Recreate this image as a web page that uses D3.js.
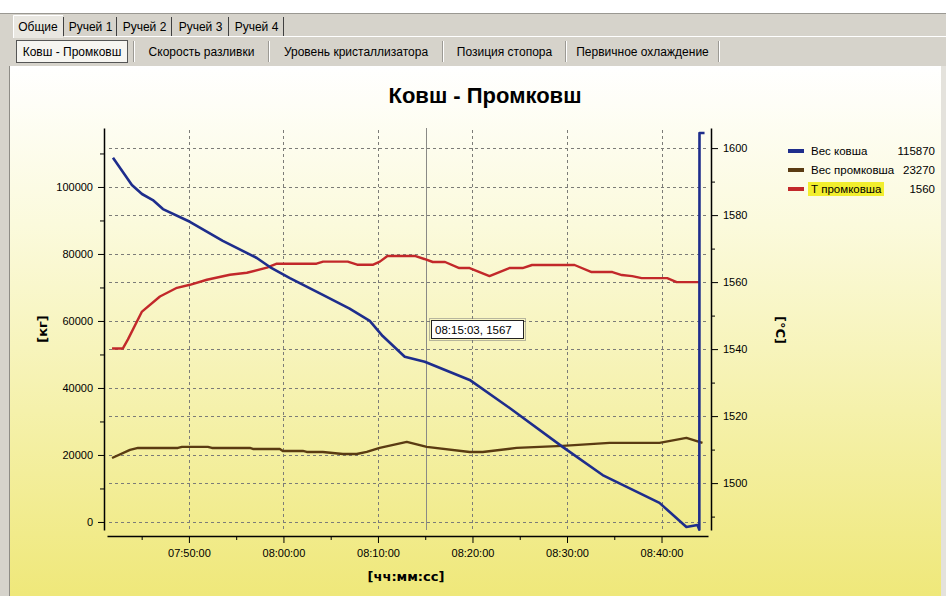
<!DOCTYPE html>
<html>
<head>
<meta charset="utf-8">
<script src="https://cdn.jsdelivr.net/npm/d3@7/dist/d3.min.js"></script>
<style>
  body { margin: 0; background: #fff; }
  svg { display: block; font-family: "Liberation Sans", Arial, sans-serif; }
</style>
</head>
<body>
<div id="chart"></div>
<script>
// tabs
var mainTabs = ["Общие", "Ручей 1", "Ручей 2", "Ручей 3", "Ручей 4"];
var subTabs = ["Ковш - Промковш", "Скорость разливки", "Уровень кристаллизатора", "Позиция стопора", "Первичное охлаждение"];

// series: [time, value]
var ladleWeight = [
  ["07:41:58", 108700], ["07:43:58", 100600], ["07:45:02", 97900], ["07:46:11", 96100],
  ["07:47:15", 93400], ["07:50:06", 89600], ["07:53:35", 83900], ["07:57:11", 78800],
  ["07:58:34", 76100], ["08:00:41", 72800], ["08:04:10", 67800], ["08:07:00", 63700],
  ["08:09:08", 60000], ["08:10:30", 55500], ["08:12:50", 49300], ["08:14:57", 47800],
  ["08:19:42", 42400], ["08:23:56", 34000], ["08:29:32", 22400], ["08:33:46", 14000],
  ["08:39:47", 5700], ["08:42:38", -1500], ["08:43:48", -900], ["08:44:00", -2300],
  ["08:44:01", 116100], ["08:44:33", 116100]
];
var tundishWeight = [
  ["07:41:52", 19100], ["07:43:46", 21500], ["07:44:37", 22100], ["07:48:50", 22100],
  ["07:49:16", 22400], ["07:52:00", 22400], ["07:52:26", 22100], ["07:56:27", 22100],
  ["07:56:46", 21800], ["07:59:37", 21800], ["07:59:56", 21200], ["08:02:03", 21200],
  ["08:02:28", 20900], ["08:04:10", 20900], ["08:06:17", 20300], ["08:07:45", 20300],
  ["08:08:49", 20900], ["08:10:11", 22100], ["08:13:03", 23900], ["08:15:10", 22400],
  ["08:19:42", 20900], ["08:21:05", 20900], ["08:24:40", 22100], ["08:29:32", 22700],
  ["08:34:30", 23600], ["08:39:47", 23600], ["08:42:38", 25100], ["08:44:20", 23600]
];
var tundishTemp = [
  ["07:41:52", 1540.2], ["07:43:01", 1540.2], ["07:43:33", 1542.9], ["07:45:02", 1551.2],
  ["07:46:56", 1555.7], ["07:48:44", 1558.3], ["07:50:06", 1559.2], ["07:51:54", 1560.7],
  ["07:54:20", 1562.2], ["07:56:08", 1562.8], ["07:58:15", 1564.3], ["07:59:18", 1565.5],
  ["08:03:30", 1565.5], ["08:04:12", 1566.1], ["08:06:48", 1566.1], ["08:07:48", 1565.2],
  ["08:09:30", 1565.2], ["08:10:12", 1566.1], ["08:11:00", 1567.8], ["08:13:54", 1567.8],
  ["08:14:54", 1566.9], ["08:15:48", 1566.0], ["08:17:06", 1566.0], ["08:18:36", 1564.2],
  ["08:19:42", 1564.2], ["08:21:48", 1561.8], ["08:23:54", 1564.2], ["08:25:18", 1564.2],
  ["08:26:18", 1565.1], ["08:30:48", 1565.1], ["08:32:36", 1563.0], ["08:34:48", 1563.0],
  ["08:35:48", 1562.1], ["08:36:54", 1561.8], ["08:37:54", 1561.2], ["08:40:36", 1561.2],
  ["08:41:36", 1560.0], ["08:44:00", 1560.0]
];

var legendNames = ["Вес ковша", "Вес промковша", "Т промковша"];
var legendValues = ["115870", "23270", "1560"];

var leftTicks = [0, 20000, 40000, 60000, 80000, 100000];
var leftMinor = [10000, 30000, 50000, 70000, 90000, 110000];
var rightTicks = [1500, 1520, 1540, 1560, 1580, 1600];
var rightMinor = [1490, 1510, 1530, 1550, 1570, 1590];

var cursorTime = "08:15:03";
var cursorLabel = "08:15:03, 1567";

var width = 946, height = 596;
var parse = d3.timeParse("%H:%M:%S");

var svg = d3.select("#chart").append("svg")
  .attr("width", width)
  .attr("height", height);

var defs = svg.append("defs");
var grad = defs.append("linearGradient")
  .attr("id", "bg").attr("x1", 0).attr("y1", 0).attr("x2", 0).attr("y2", 1);
grad.append("stop").attr("offset", "0%").attr("stop-color", "#ffffff");
grad.append("stop").attr("offset", "30%").attr("stop-color", "#fbfadc");
grad.append("stop").attr("offset", "100%").attr("stop-color", "#efe87a");

// window / tab frame
svg.append("rect").attr("x", 0).attr("y", 13).attr("width", width).attr("height", height - 13).attr("fill", "#d6d3cb");
svg.append("line").attr("x1", 0).attr("x2", width).attr("y1", 13.5).attr("y2", 13.5).attr("stroke", "#9a9892");
svg.append("line").attr("x1", 64).attr("x2", width).attr("y1", 36.5).attr("y2", 36.5).attr("stroke", "#ffffff");

var tabEdges = [13, 65, 118, 173, 230, 285];
mainTabs.forEach(function (t, i) {
  var x0 = tabEdges[i], x1 = tabEdges[i + 1];
  if (i == 0) {
    svg.append("rect").attr("x", x0).attr("y", 15).attr("width", x1 - x0 - 2).attr("height", 23).attr("fill", "#e9e7e1");
    svg.append("path").attr("d", "M" + (x0 + 0.5) + ",38V15.5H" + (x1 - 2)).attr("fill", "none").attr("stroke", "#fff");
  }
  svg.append("line").attr("x1", x1 - 1.5).attr("x2", x1 - 1.5).attr("y1", 17).attr("y2", 36).attr("stroke", "#404040");
  svg.append("text").attr("x", (x0 + x1) / 2 - 1).attr("y", 31).attr("text-anchor", "middle")
    .style("font-size", "12px").attr("fill", "#000").text(t);
});

var subEdges = [16, 133, 268, 442, 565, 718];
subTabs.forEach(function (t, i) {
  var x0 = subEdges[i], x1 = subEdges[i + 1];
  if (i == 0) {
    svg.append("rect").attr("x", 16.5).attr("y", 40.5).attr("width", 111).attr("height", 22)
      .attr("fill", "#f6f5f1").attr("stroke", "#555");
  }
  svg.append("line").attr("x1", x1 + 0.5).attr("x2", x1 + 0.5).attr("y1", 41).attr("y2", 62).attr("stroke", "#9c9a94");
  svg.append("line").attr("x1", x1 + 1.5).attr("x2", x1 + 1.5).attr("y1", 41).attr("y2", 62).attr("stroke", "#fff");
  svg.append("text").attr("x", i == 0 ? 72 : (x0 + x1) / 2 + 1).attr("y", 56).attr("text-anchor", "middle")
    .style("font-size", "12px").attr("fill", "#000").text(t);
});

// chart pane
svg.append("rect").attr("x", 9).attr("y", 66).attr("width", 932).attr("height", 530).attr("fill", "url(#bg)");
svg.append("line").attr("x1", 9.5).attr("x2", 9.5).attr("y1", 66).attr("y2", height).attr("stroke", "#8e8c86");
svg.append("rect").attr("x", 941).attr("y", 66).attr("width", 5).attr("height", 530).attr("fill", "#e4e2dc");

// scales
var x = d3.scaleTime().domain([parse("07:41:20"), parse("08:44:55")]).range([107, 708]);
var yL = d3.scaleLinear().domain([-2400, 117600]).range([530, 128]);
var yR = d3.scaleLinear().domain([1486, 1606]).range([530, 128]);

// title
svg.append("text").attr("x", 485).attr("y", 103).attr("text-anchor", "middle")
  .style("font-size", "22px").style("font-weight", "bold").text("Ковш - Промковш");

// grid
var grid = svg.append("g").attr("stroke", "#7c7c78").attr("stroke-dasharray", "3,3").attr("stroke-width", 1);
var xMajor = x.ticks(d3.timeMinute.every(10));
grid.selectAll(".gx").data(xMajor).enter().append("line")
  .attr("x1", function (d) { return Math.round(x(d)) + 0.5; })
  .attr("x2", function (d) { return Math.round(x(d)) + 0.5; })
  .attr("y1", 130).attr("y2", 530);
grid.selectAll(".gl").data(leftTicks).enter().append("line")
  .attr("x1", 109).attr("x2", 707)
  .attr("y1", function (d) { return Math.round(yL(d)) + 0.5; })
  .attr("y2", function (d) { return Math.round(yL(d)) + 0.5; });
grid.selectAll(".gr").data(rightTicks).enter().append("line")
  .attr("x1", 109).attr("x2", 707)
  .attr("y1", function (d) { return Math.round(yR(d)) + 0.5; })
  .attr("y2", function (d) { return Math.round(yR(d)) + 0.5; });

// cursor
svg.append("line")
  .attr("x1", Math.round(x(parse(cursorTime))) + 0.5).attr("x2", Math.round(x(parse(cursorTime))) + 0.5)
  .attr("y1", 128).attr("y2", 530).attr("stroke", "#8a8a86").attr("stroke-width", 1);

// axes
function styleAxis(g) {
  g.selectAll("text").attr("fill", "#000").style("font-size", "11px").style("font-family", "Liberation Sans, Arial, sans-serif");
  g.selectAll("line").attr("stroke", "#000");
  g.select(".domain").attr("stroke", "#000").attr("stroke-width", 1.5);
}

var xMinor = x.ticks(d3.timeMinute.every(5)).filter(function (d) { return d.getMinutes() % 10 != 0; });
svg.append("g").attr("transform", "translate(0,536)")
  .call(d3.axisBottom(x).tickValues(xMajor).tickFormat(d3.timeFormat("%H:%M:%S")).tickSize(7).tickSizeOuter(0).tickPadding(6))
  .call(styleAxis);
svg.append("g").attr("transform", "translate(0,536)")
  .call(d3.axisBottom(x).tickValues(xMinor).tickFormat("").tickSize(4))
  .call(function (g) { g.select(".domain").remove(); g.selectAll("line").attr("stroke", "#000"); });

svg.append("g").attr("transform", "translate(104,0)")
  .call(d3.axisLeft(yL).tickValues(leftTicks).tickFormat(d3.format("d")).tickSize(6).tickSizeOuter(0).tickPadding(5))
  .call(styleAxis);
svg.append("g").attr("transform", "translate(104,0)")
  .call(d3.axisLeft(yL).tickValues(leftMinor).tickFormat("").tickSize(4))
  .call(function (g) { g.select(".domain").remove(); g.selectAll("line").attr("stroke", "#000"); });

svg.append("g").attr("transform", "translate(711,0)")
  .call(d3.axisRight(yR).tickValues(rightTicks).tickFormat(d3.format("d")).tickSize(7).tickSizeOuter(0).tickPadding(5))
  .call(styleAxis);
svg.append("g").attr("transform", "translate(711,0)")
  .call(d3.axisRight(yR).tickValues(rightMinor).tickFormat("").tickSize(4))
  .call(function (g) { g.select(".domain").remove(); g.selectAll("line").attr("stroke", "#000"); });

// axis titles
svg.append("text").attr("transform", "translate(47,329) rotate(-90)").attr("text-anchor", "middle")
  .style("font-family", "DejaVu Sans").style("font-weight", "bold").style("font-size", "13px").text("[кг]");
svg.append("text").attr("transform", "translate(776,330) rotate(90)").attr("text-anchor", "middle")
  .style("font-family", "DejaVu Sans").style("font-weight", "bold").style("font-size", "13px").text("[°C]");
svg.append("text").attr("x", 406).attr("y", 581).attr("text-anchor", "middle")
  .style("font-family", "DejaVu Sans").style("font-weight", "bold").style("font-size", "13px").text("[чч:мм:сс]");

// series
var colors = ["#1e2d8c", "#5a3b12", "#c2282a"];
var lineL = d3.line().x(function (d) { return x(parse(d[0])); }).y(function (d) { return yL(d[1]); });
var lineR = d3.line().x(function (d) { return x(parse(d[0])); }).y(function (d) { return yR(d[1]); });

svg.append("path").datum(tundishWeight).attr("d", lineL).attr("fill", "none")
  .attr("stroke", colors[1]).attr("stroke-width", 2.4).attr("stroke-linejoin", "round");
svg.append("path").datum(tundishTemp).attr("d", lineR).attr("fill", "none")
  .attr("stroke", colors[2]).attr("stroke-width", 2.4).attr("stroke-linejoin", "round");
svg.append("path").datum(ladleWeight).attr("d", lineL).attr("fill", "none")
  .attr("stroke", colors[0]).attr("stroke-width", 2.6).attr("stroke-linejoin", "round");

// tooltip
var tx = Math.round(x(parse(cursorTime))) + 5;
svg.append("rect").attr("x", tx - 1.5).attr("y", 318.5).attr("width", 96).attr("height", 22)
  .attr("fill", "none").attr("stroke", "#777").attr("stroke-dasharray", "1,1");
svg.append("rect").attr("x", tx + 0.5).attr("y", 320.5).attr("width", 92).attr("height", 18)
  .attr("fill", "#fff").attr("stroke", "#222");
svg.append("text").attr("x", tx + 4).attr("y", 334).style("font-size", "11.5px").text(cursorLabel);

// legend
var leg = svg.append("g");
var rowY = [151, 170, 189];
leg.append("rect").attr("x", 808).attr("y", 182).attr("width", 76).attr("height", 14).attr("fill", "#f2ee2e");
legendNames.forEach(function (n, i) {
  leg.append("line").attr("x1", 788).attr("x2", 804).attr("y1", rowY[i]).attr("y2", rowY[i])
    .attr("stroke", colors[i]).attr("stroke-width", 4);
  leg.append("text").attr("x", 811).attr("y", rowY[i] + 4).style("font-size", "11.5px").text(n);
  leg.append("text").attr("x", 935).attr("y", rowY[i] + 4).attr("text-anchor", "end").style("font-size", "11.5px").text(legendValues[i]);
});
</script>
</body>
</html>
